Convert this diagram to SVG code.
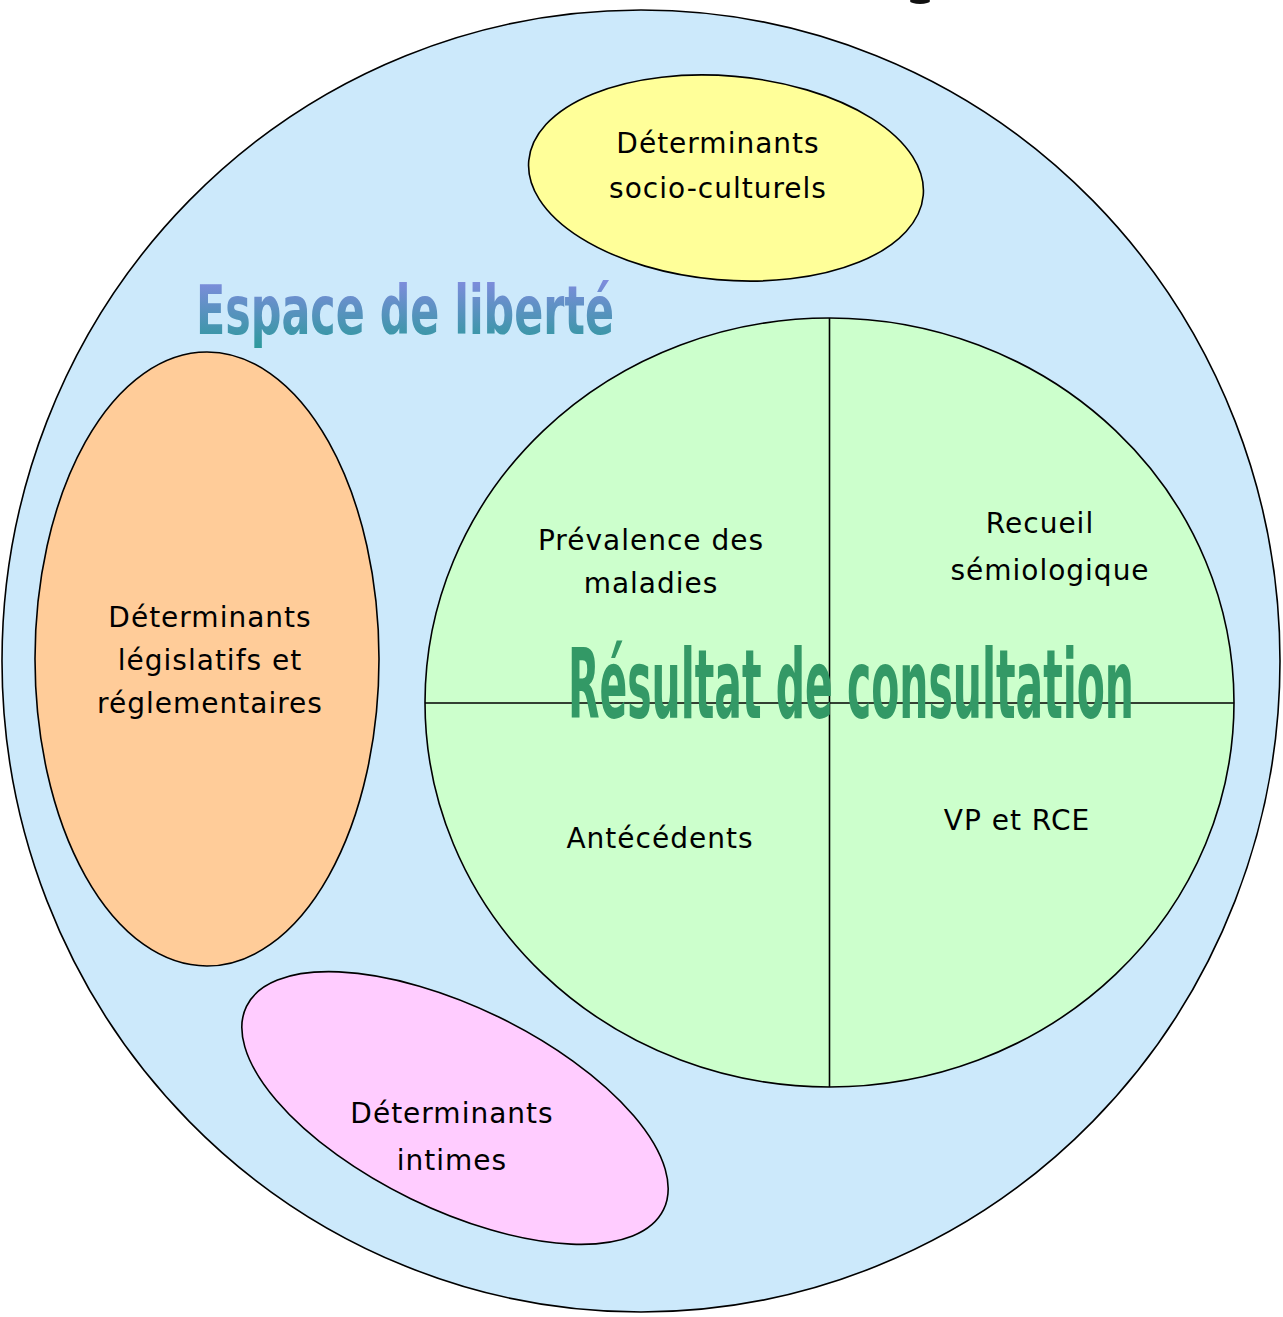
<svg xmlns="http://www.w3.org/2000/svg" width="1283" height="1317" viewBox="0 0 1283 1317">
<style>
.shape{stroke:#000;stroke-width:1.6}
.lbl{font-family:"DejaVu Sans","Liberation Sans",sans-serif;font-size:28px;fill:#000;text-anchor:middle;letter-spacing:1px}
.wa{font-family:"DejaVu Sans Condensed","Liberation Sans Narrow","DejaVu Sans",sans-serif;font-weight:bold}
</style>
<defs>
<linearGradient id="gEsp" x1="0" y1="0" x2="0" y2="1">
<stop offset="0" stop-color="#8a8ae6"/>
<stop offset="1" stop-color="#2a9a9a"/>
</linearGradient>
</defs>
<rect width="1283" height="1317" fill="#fff"/>
<ellipse cx="920" cy="1" rx="10" ry="3" fill="#111"/>
<g id="espace">
<ellipse class="shape" cx="641" cy="661" rx="639" ry="651" fill="#cce9fb"/>
<text class="wa" x="196" y="334" font-size="68" fill="url(#gEsp)" textLength="418" lengthAdjust="spacingAndGlyphs">Espace de liberté</text>
</g>
<g id="socio">
<ellipse class="shape" cx="726" cy="178" rx="198" ry="102" fill="#ffff99" transform="rotate(5 726 178)"/>
<text class="lbl" x="718" y="153">Déterminants</text>
<text class="lbl" x="718" y="198">socio-culturels</text>
</g>
<g id="legislatifs">
<ellipse class="shape" cx="207" cy="659" rx="172" ry="307" fill="#ffcc99"/>
<text class="lbl" x="210" y="627">Déterminants</text>
<text class="lbl" x="210" y="670">législatifs et</text>
<text class="lbl" x="210" y="713">réglementaires</text>
</g>
<g id="intimes">
<ellipse class="shape" cx="455" cy="1108" rx="232" ry="101" fill="#ffccff" transform="rotate(26 455 1108)"/>
<text class="lbl" x="452" y="1123">Déterminants</text>
<text class="lbl" x="452" y="1170">intimes</text>
</g>
<g id="resultat">
<ellipse class="shape" cx="829.5" cy="702.5" rx="404.5" ry="384.5" fill="#ccffcc"/>
<text class="lbl" x="651" y="550">Prévalence des</text>
<text class="lbl" x="651" y="593">maladies</text>
<text class="lbl" x="1040" y="533">Recueil</text>
<text class="lbl" x="1050" y="580">sémiologique</text>
<text class="lbl" x="660" y="848">Antécédents</text>
<text class="lbl" x="1017" y="830">VP et RCE</text>
</g>
<g id="connectors">
<line x1="829.5" y1="318" x2="829.5" y2="1087" stroke="#000" stroke-width="1.6"/>
<line x1="425" y1="703" x2="1234" y2="703" stroke="#000" stroke-width="1.6"/>
</g>
<g id="titre-resultat">
<text class="wa" transform="scale(1,2.1)" x="568" y="341.9" font-size="46" fill="#339966" textLength="566" lengthAdjust="spacingAndGlyphs">Résultat de consultation</text>
</g>
</svg>
